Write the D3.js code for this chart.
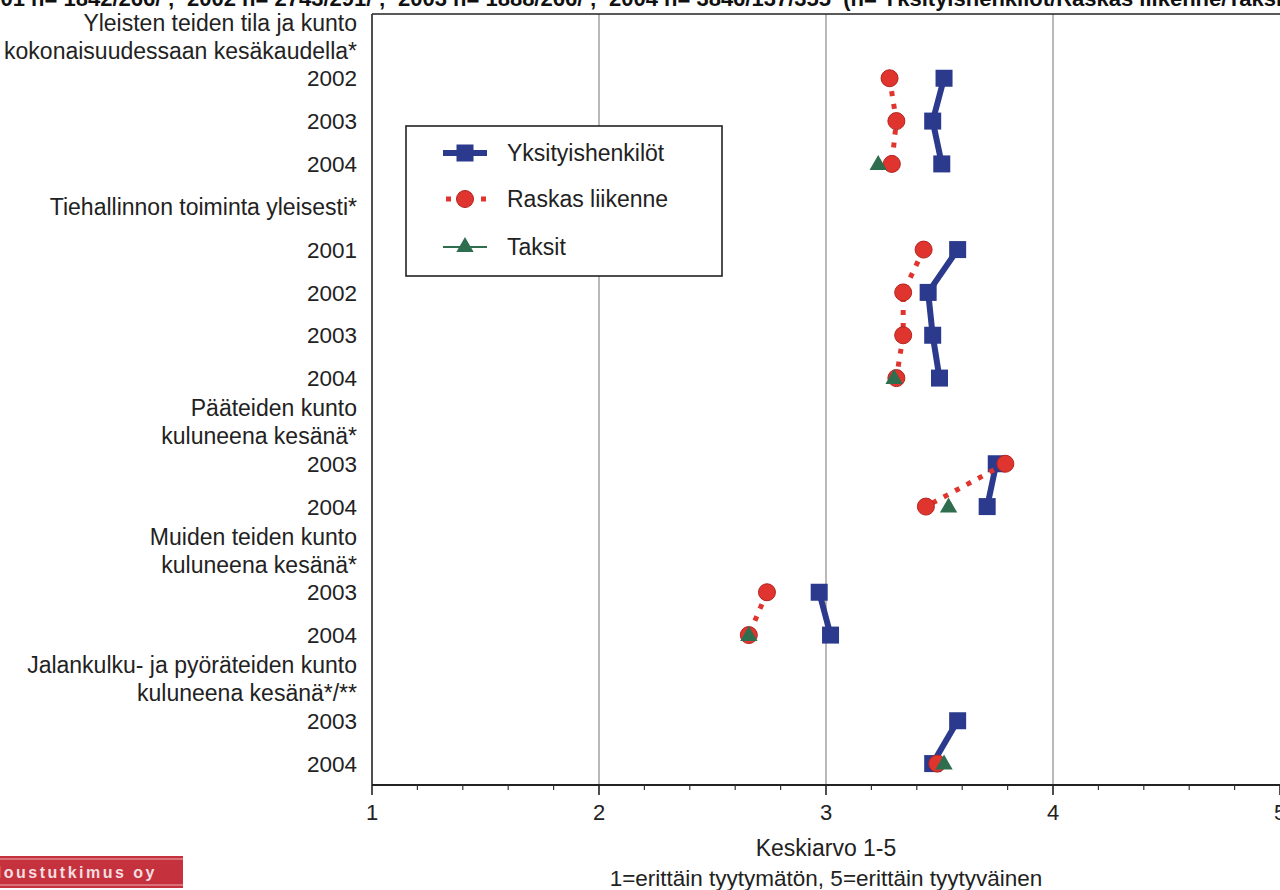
<!DOCTYPE html>
<html><head><meta charset="utf-8">
<script src="https://cdn.jsdelivr.net/npm/d3@7/dist/d3.min.js"></script>
<style>
html,body{margin:0;padding:0;background:#fff;}
svg{display:block;font-family:"Liberation Sans",Arial,sans-serif;}
</style></head>
<body>
<svg id="chart" width="1280" height="890"></svg>
<script>
// ---- data ----
const categories = [
  ["Yleisten teiden tila ja kunto", "kokonaisuudessaan kesäkaudella*"],
  ["Tiehallinnon toiminta yleisesti*"],
  ["Pääteiden kunto", "kuluneena kesänä*"],
  ["Muiden teiden kunto", "kuluneena kesänä*"],
  ["Jalankulku- ja pyöräteiden kunto", "kuluneena kesänä*/**"]
];
const years = [
  ["2002", "2003", "2004"],
  ["2001", "2002", "2003", "2004"],
  ["2003", "2004"],
  ["2003", "2004"],
  ["2003", "2004"]
];
const yksityishenkilot = [
  [3.52, 3.47, 3.51],
  [3.58, 3.45, 3.47, 3.50],
  [3.75, 3.71],
  [2.97, 3.02],
  [3.58, 3.47]
];
const raskasLiikenne = [
  [3.28, 3.31, 3.29],
  [3.43, 3.34, 3.34, 3.31],
  [3.79, 3.44],
  [2.74, 2.66],
  [null, 3.49]
];
const taksit = [
  [null, null, 3.23],
  [null, null, null, 3.30],
  [null, 3.54],
  [null, 2.66],
  [null, 3.52]
];
const seriesNames = ["Yksityishenkilöt", "Raskas liikenne", "Taksit"];
const xTicks = [1, 2, 3, 4, 5];
const xTitle = "Keskiarvo 1-5";
const xSubtitle = "1=erittäin tyytymätön, 5=erittäin tyytyväinen";
const topTitle = "2001 n= 1842/266/ ;  2002 n= 2743/291/ ;  2003 n= 1888/266/ ;  2004 n= 3846/137/355  (n= Yksityishenkilöt/Raskas liikenne/Taksit)";
const logoText = "Taloustutkimus oy";

(function () {
// ---- build rows ----
const rows = [];
categories.forEach((c, ci) => {
  rows.push({id: "c" + ci, type: "cat", lines: c});
  years[ci].forEach((y, yi) => rows.push({id: "c" + ci + "y" + yi, type: "year", label: y, ci, yi}));
});

const svg = d3.select("#chart");
const mLeft = 372, mRight = 1280, mTop = 14, mBottom = 785;

const x = d3.scaleLinear().domain([1, 5]).range([mLeft, mRight]);
const y = d3.scaleBand().domain(rows.map(r => r.id)).range([mTop, mBottom]);
const yc = id => y(id) + y.bandwidth() / 2;

// title (cut at top)
svg.append("text")
  .attr("x", -24).attr("y", 5.5)
  .attr("font-size", 22).attr("font-weight", "bold").attr("fill", "#111")
  .style("white-space", "pre")
  .text(topTitle);

// gridlines
svg.append("g").selectAll("line").data([2, 3, 4]).join("line")
  .attr("x1", d => x(d)).attr("x2", d => x(d))
  .attr("y1", mTop).attr("y2", mBottom)
  .attr("stroke", "#8a8a8a").attr("stroke-width", 1.2);

// frame
svg.append("line").attr("x1", mLeft).attr("x2", mRight).attr("y1", mTop).attr("y2", mTop)
  .attr("stroke", "#222").attr("stroke-width", 1.6);
svg.append("line").attr("x1", mLeft).attr("x2", mLeft).attr("y1", mTop).attr("y2", mBottom)
  .attr("stroke", "#222").attr("stroke-width", 1.6);

// x axis
const xAxisG = svg.append("g").attr("transform", `translate(0,${mBottom})`);
xAxisG.append("line").attr("x1", mLeft).attr("x2", mRight).attr("y1", 0).attr("y2", 0)
  .attr("stroke", "#222").attr("stroke-width", 2.2);
const minor = d3.range(1, 5.001, 0.2).map(v => +v.toFixed(1)).filter(v => !xTicks.includes(v));
xAxisG.selectAll("line.minor").data(minor).join("line").attr("class", "minor")
  .attr("x1", d => x(d)).attr("x2", d => x(d)).attr("y1", 0).attr("y2", 5)
  .attr("stroke", "#333").attr("stroke-width", 1.2);
xAxisG.selectAll("line.major").data(xTicks).join("line").attr("class", "major")
  .attr("x1", d => x(d)).attr("x2", d => x(d)).attr("y1", 0).attr("y2", 10)
  .attr("stroke", "#222").attr("stroke-width", 1.6);
xAxisG.selectAll("text").data(xTicks).join("text")
  .attr("x", d => x(d)).attr("y", 35)
  .attr("text-anchor", "middle").attr("font-size", 22).attr("fill", "#222")
  .text(d => d);

svg.append("text").attr("x", x(3)).attr("y", 856).attr("text-anchor", "middle")
  .attr("font-size", 23).attr("fill", "#222").text(xTitle);
svg.append("text").attr("x", x(3)).attr("y", 886).attr("text-anchor", "middle")
  .attr("font-size", 22.5).attr("fill", "#222").text(xSubtitle);

// y labels
const labG = svg.append("g").attr("font-size", 23).attr("fill", "#222").attr("text-anchor", "end");
const labX = 357;
rows.forEach(r => {
  if (r.type === "year") {
    labG.append("text").attr("x", labX).attr("y", yc(r.id)).attr("dy", "0.36em").attr("font-size", 22.5).text(r.label);
  } else if (r.lines.length === 1) {
    labG.append("text").attr("x", labX).attr("y", yc(r.id)).attr("dy", "0.36em").text(r.lines[0]);
  } else {
    labG.append("text").attr("x", labX).attr("y", yc(r.id) - 13).attr("dy", "0.36em").text(r.lines[0]);
    labG.append("text").attr("x", labX).attr("y", yc(r.id) + 15).attr("dy", "0.36em").text(r.lines[1]);
  }
});

// series
const blue = "#2b3a8c", red = "#e0352f", redDark = "#b3231f", green = "#2e6e4e";
const line = d3.line().defined(d => d.v != null).x(d => x(d.v)).y(d => yc(d.id));
function pts(arr, ci) { return arr[ci].map((v, yi) => ({v, id: "c" + ci + "y" + yi})); }

const gB = svg.append("g"), gR = svg.append("g"), gG = svg.append("g");
categories.forEach((c, ci) => {
  const pb = pts(yksityishenkilot, ci);
  gB.append("path").attr("d", line(pb)).attr("fill", "none").attr("stroke", blue).attr("stroke-width", 6);
  gB.append("g").selectAll("rect").data(pb.filter(d => d.v != null)).join("rect")
    .attr("x", d => x(d.v) - 8.5).attr("y", d => yc(d.id) - 8.5).attr("width", 17).attr("height", 17)
    .attr("fill", blue);
});
categories.forEach((c, ci) => {
  const pr = pts(raskasLiikenne, ci).filter(d => d.v != null);
  gR.append("path").attr("d", line(pr)).attr("fill", "none")
    .attr("stroke", red).attr("stroke-width", 5).attr("stroke-dasharray", "5,8");
  gR.append("g").selectAll("circle").data(pr).join("circle")
    .attr("cx", d => x(d.v)).attr("cy", d => yc(d.id)).attr("r", 8.5)
    .attr("fill", red).attr("stroke", redDark).attr("stroke-width", 1);
});
const tri = d3.symbol().type(d3.symbolTriangle).size(130);
categories.forEach((c, ci) => {
  const pt = pts(taksit, ci).filter(d => d.v != null);
  gG.append("path").attr("d", line(pt)).attr("fill", "none")
    .attr("stroke", green).attr("stroke-width", 2);
  gG.append("g").selectAll("path").data(pt).join("path")
    .attr("transform", d => `translate(${x(d.v)},${yc(d.id) + 1})`)
    .attr("d", tri).attr("fill", green);
});

// legend
const lg = svg.append("g");
lg.append("rect").attr("x", 406).attr("y", 126).attr("width", 316).attr("height", 150)
  .attr("fill", "#fff").attr("stroke", "#222").attr("stroke-width", 1.6);
const ly = [153, 199, 247];
seriesNames.forEach((n, i) => {
  const yy = ly[i];
  if (i === 0) {
    lg.append("line").attr("x1", 443).attr("x2", 487).attr("y1", yy).attr("y2", yy).attr("stroke", blue).attr("stroke-width", 6);
    lg.append("rect").attr("x", 465 - 8.5).attr("y", yy - 8.5).attr("width", 17).attr("height", 17).attr("fill", blue);
  } else if (i === 1) {
    lg.append("line").attr("x1", 446).attr("x2", 486).attr("y1", yy).attr("y2", yy).attr("stroke", red).attr("stroke-width", 5).attr("stroke-dasharray", "5,30");
    lg.append("circle").attr("cx", 465).attr("cy", yy).attr("r", 8.5).attr("fill", red).attr("stroke", redDark);
  } else {
    lg.append("line").attr("x1", 443).attr("x2", 487).attr("y1", yy).attr("y2", yy).attr("stroke", green).attr("stroke-width", 2);
    lg.append("path").attr("transform", `translate(465,${yy})`).attr("d", tri).attr("fill", green);
  }
  lg.append("text").attr("x", 507).attr("y", yy).attr("dy", "0.36em").attr("font-size", 23).attr("fill", "#222").text(n);
});

// logo
svg.append("rect").attr("x", -2).attr("y", 856).attr("width", 185).attr("height", 32).attr("fill", "#c5323d");
svg.append("line").attr("x1", 0).attr("x2", 183).attr("y1", 859).attr("y2", 859).attr("stroke", "#f0b0b4").attr("stroke-width", 1);
svg.append("line").attr("x1", 0).attr("x2", 183).attr("y1", 885).attr("y2", 885).attr("stroke", "#f0b0b4").attr("stroke-width", 1);
svg.append("text").attr("x", 157).attr("y", 878).attr("text-anchor", "end")
  .attr("font-size", 16).attr("font-weight", "bold").attr("letter-spacing", 2.5).attr("fill", "#f6dde0")
  .text(logoText);
})();
</script>
</body></html>
